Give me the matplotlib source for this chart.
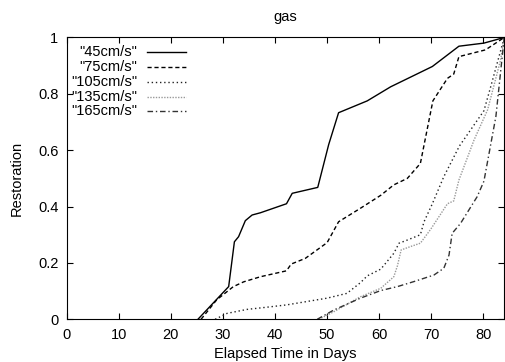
import matplotlib
matplotlib.use("Agg")
import matplotlib.pyplot as plt

plt.rcParams['font.family'] = ['Liberation Sans', 'DejaVu Sans']

# restoration curves (days, restoration)
days_45 = [25.2, 31.1, 32.2, 33.0, 34.3, 35.6, 37.2, 42.2, 43.3, 48.2, 50.3, 52.2, 57.7, 62.2, 70.2, 75.3, 80.1, 84.0]
rest_45 = [0.0, 0.116, 0.275, 0.293, 0.35, 0.37, 0.378, 0.41, 0.447, 0.468, 0.62, 0.733, 0.775, 0.825, 0.897, 0.969, 0.98, 1.0]

days_75 = [25.8, 28.8, 32.0, 34.0, 37.2, 42.2, 43.1, 45.8, 50.0, 52.2, 56.4, 60.3, 62.8, 65.4, 67.9, 70.3, 73.1, 74.3, 75.3, 80.4, 84.0]
rest_75 = [0.0, 0.069, 0.116, 0.133, 0.151, 0.172, 0.196, 0.216, 0.272, 0.346, 0.394, 0.44, 0.477, 0.5, 0.553, 0.775, 0.855, 0.87, 0.932, 0.956, 1.0]

days_105 = [28.5, 30.8, 34.6, 38.5, 42.2, 50.0, 53.8, 56.4, 57.7, 60.3, 62.8, 63.8, 65.1, 67.9, 68.6, 70.2, 72.4, 75.4, 80.1, 81.4, 84.0]
rest_105 = [0.0, 0.021, 0.035, 0.043, 0.051, 0.075, 0.092, 0.13, 0.154, 0.178, 0.234, 0.27, 0.279, 0.30, 0.346, 0.41, 0.506, 0.615, 0.74, 0.825, 1.0]

days_135 = [48.4, 51.3, 56.4, 60.3, 62.8, 63.5, 64.2, 66.0, 67.9, 69.9, 73.1, 74.3, 75.3, 78.2, 80.8, 83.3, 84.0]
rest_135 = [0.0, 0.027, 0.08, 0.11, 0.151, 0.19, 0.246, 0.258, 0.27, 0.32, 0.41, 0.42, 0.494, 0.636, 0.743, 0.92, 1.0]

days_165 = [48.1, 51.3, 56.4, 60.3, 63.5, 66.7, 70.5, 72.4, 73.4, 74.0, 75.6, 78.8, 80.1, 82.4, 84.0]
rest_165 = [0.0, 0.033, 0.075, 0.102, 0.116, 0.134, 0.157, 0.181, 0.228, 0.305, 0.34, 0.435, 0.49, 0.72, 1.0]

labels = ['"45cm/s"', '"75cm/s"', '"105cm/s"', '"135cm/s"', '"165cm/s"']
xticks = [0, 10, 20, 30, 40, 50, 60, 70, 80]
yticks = [0, 0.2, 0.4, 0.6, 0.8, 1]

series = [(days_45, rest_45), (days_75, rest_75), (days_105, rest_105),
          (days_135, rest_135), (days_165, rest_165)]
styles = [dict(color='black', ls='-'),
          dict(color='black', ls=(0, (3, 2))),
          dict(color='#222222', ls=(0, (1, 2))),
          dict(color='#999999', ls=(0, (1, 1))),
          dict(color='#333333', ls=(0, (4, 2, 1, 2)))]

fig = plt.figure(figsize=(5.05, 3.62), dpi=100)
ax = fig.add_axes([0.132, 0.118, 0.8665, 0.7785])

for (d, r), st in zip(series, styles):
    ax.plot(d, r, lw=1.0, **st)

# gnuplot-style key: right aligned text, sample line to the right
for i, (lab, st) in enumerate(zip(labels, styles)):
    yk = 0.948 - i * 0.0525
    ax.text(0.161, yk, lab, transform=ax.transAxes, ha='right', va='center',
            fontsize=10.5)
    ax.plot([0.184, 0.273], [yk, yk], transform=ax.transAxes, lw=1.0, **st)

ax.set_xlim(0, 84)
ax.set_ylim(0, 1)
ax.set_xticks(xticks)
ax.set_yticks(yticks)
ax.set_yticklabels(['0', '0.2', '0.4', '0.6', '0.8', '1'])
ax.tick_params(direction='in', length=4, width=0.8, top=True, right=True,
               labelsize=10.5, pad=6)
ax.set_title('gas', fontsize=10.5, pad=12)
ax.set_xlabel('Elapsed Time in Days', fontsize=10.5, labelpad=4)
ax.set_ylabel('Restoration', fontsize=10.5, labelpad=10)

fig.savefig('out.png', dpi=100)
